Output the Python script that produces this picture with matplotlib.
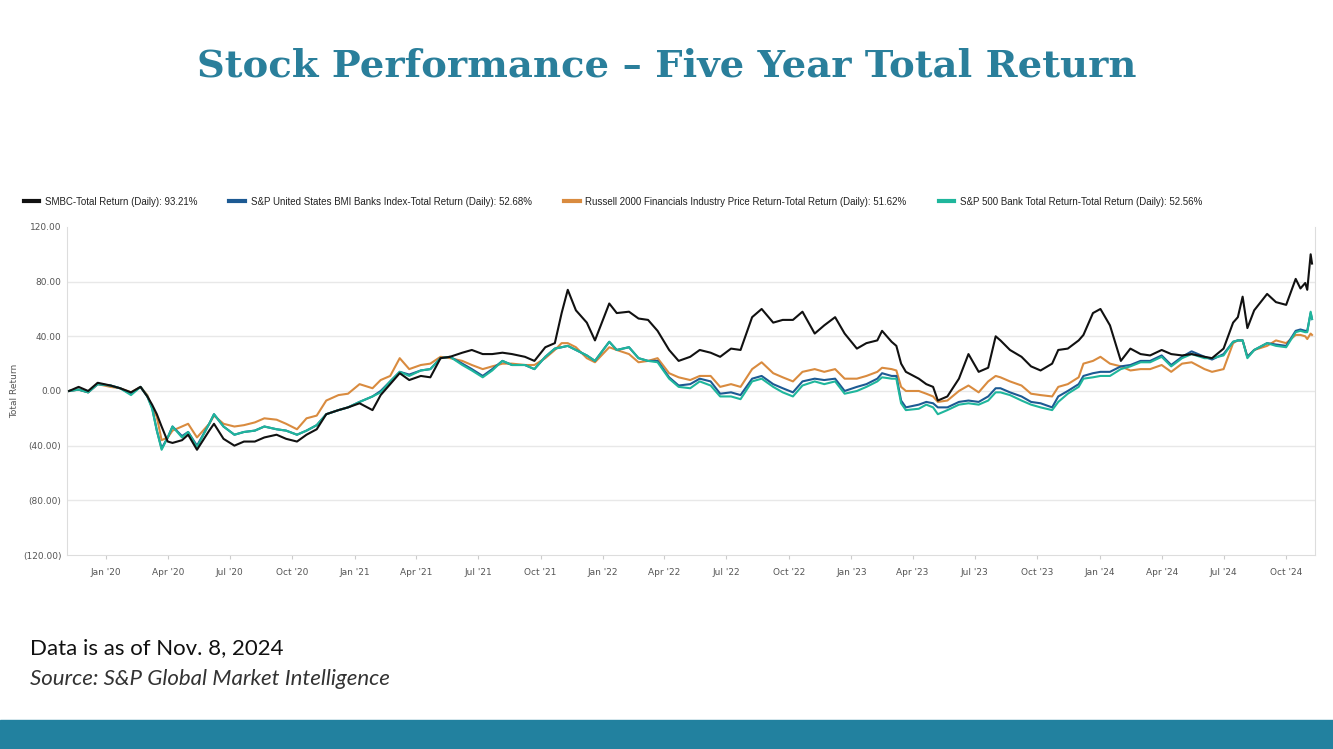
import pandas as pd
import matplotlib.pyplot as plt
import matplotlib.dates as mdates
from matplotlib.patches import Rectangle

# Werte (ca. alle zwei Wochen)
dates = [
    '2019-11-08', '2019-11-22', '2019-12-06', '2019-12-20', '2020-01-08', '2020-01-22',
    '2020-02-07', '2020-02-21', '2020-03-02', '2020-03-09', '2020-03-16', '2020-03-23',
    '2020-04-01', '2020-04-08', '2020-04-22', '2020-05-01', '2020-05-14', '2020-06-01',
    '2020-06-08', '2020-06-22', '2020-07-08', '2020-07-22', '2020-08-07', '2020-08-21',
    '2020-09-08', '2020-09-22', '2020-10-08', '2020-10-22', '2020-11-06', '2020-11-20',
    '2020-12-08', '2020-12-22', '2021-01-08', '2021-01-27', '2021-02-08', '2021-02-22',
    '2021-03-08', '2021-03-22', '2021-04-08', '2021-04-22', '2021-05-07', '2021-05-21',
    '2021-06-08', '2021-06-22', '2021-07-08', '2021-07-22', '2021-08-06', '2021-08-20',
    '2021-09-08', '2021-09-22', '2021-10-08', '2021-10-22', '2021-11-01', '2021-11-10',
    '2021-11-22', '2021-12-08', '2021-12-20', '2022-01-10', '2022-01-21', '2022-02-08',
    '2022-02-22', '2022-03-08', '2022-03-22', '2022-04-08', '2022-04-22', '2022-05-09',
    '2022-05-23', '2022-06-08', '2022-06-22', '2022-07-08', '2022-07-22', '2022-08-08',
    '2022-08-22', '2022-09-08', '2022-09-22', '2022-10-07', '2022-10-21', '2022-11-08',
    '2022-11-22', '2022-12-08', '2022-12-22', '2023-01-09', '2023-01-23', '2023-02-08',
    '2023-02-15', '2023-03-01', '2023-03-08', '2023-03-15', '2023-03-22', '2023-04-10',
    '2023-04-21', '2023-05-01', '2023-05-08', '2023-05-22', '2023-06-08', '2023-06-22',
    '2023-07-07', '2023-07-21', '2023-08-01', '2023-08-08', '2023-08-22', '2023-09-08',
    '2023-09-22', '2023-10-06', '2023-10-23', '2023-11-01', '2023-11-15', '2023-12-01',
    '2023-12-08', '2023-12-22', '2024-01-02', '2024-01-16', '2024-02-01', '2024-02-15',
    '2024-03-01', '2024-03-15', '2024-04-01', '2024-04-15', '2024-05-01', '2024-05-15',
    '2024-06-03', '2024-06-14', '2024-07-01', '2024-07-15', '2024-07-22', '2024-07-29',
    '2024-08-05', '2024-08-15', '2024-09-03', '2024-09-16', '2024-10-01', '2024-10-15',
    '2024-10-22', '2024-10-29', '2024-11-01', '2024-11-06', '2024-11-08',
]

smbc = [
    0, 3, 0, 6, 4, 2, -1, 3, -4, -10, -17, -26,
    -37, -38, -36, -32, -43, -29, -24, -35, -40, -37, -37, -34,
    -32, -35, -37, -32, -28, -17, -14, -12, -9, -14, -3, 5,
    13, 8, 11, 10, 24, 25, 28, 30, 27, 27, 28, 27,
    25, 22, 32, 35, 57, 74, 59, 50, 37, 64, 57, 58,
    53, 52, 44, 30, 22, 25, 30, 28, 25, 31, 30, 54,
    60, 50, 52, 52, 58, 42, 48, 54, 42, 31, 35, 37,
    44, 36, 33, 20, 14, 9, 5, 3, -7, -4, 9, 27,
    14, 17, 40, 37, 30, 25, 18, 15, 20, 30, 31, 37,
    41, 57, 60, 48, 22, 31, 27, 26, 30, 27, 26, 27,
    25, 24, 31, 50, 54, 69, 46, 59, 71, 65, 63, 82,
    75, 79, 74, 100, 93.21,
]

bmi_banks = [
    0, 1, -1, 5, 4, 2, -2, 3, -4, -12, -29, -42,
    -34, -26, -33, -30, -40, -24, -17, -26, -32, -30, -29, -26,
    -28, -29, -32, -29, -25, -17, -14, -12, -8, -4, 0, 7,
    14, 12, 15, 16, 24, 25, 20, 16, 11, 16, 22, 19,
    19, 16, 25, 31, 32, 33, 30, 26, 22, 36, 30, 32,
    24, 22, 22, 10, 4, 5, 9, 7, -2, -1, -3, 9,
    11, 5, 2, -1, 7, 9, 8, 9, 0, 3, 5, 9,
    13, 11, 11, -7, -12, -10, -8, -9, -12, -12, -8, -7,
    -8, -4, 2, 2, -1, -4, -8, -9, -12, -4, 0, 5,
    11, 13, 14, 14, 18, 19, 22, 22, 26, 19, 25, 29,
    25, 23, 27, 36, 37, 37, 25, 30, 35, 34, 33, 44,
    45, 44, 44, 57, 52.68,
]

russell_fin = [
    0, 1, -1, 5, 3, 2, -1, 3, -3, -12, -19, -36,
    -34, -29, -26, -24, -34, -24, -18, -24, -26, -25, -23, -20,
    -21, -24, -28, -20, -18, -7, -3, -2, 5, 2, 8, 11,
    24, 16, 19, 20, 25, 24, 22, 19, 16, 18, 20, 20,
    19, 19, 24, 30, 35, 35, 32, 24, 21, 32, 30, 27,
    21, 22, 24, 13, 10, 8, 11, 11, 3, 5, 3, 16,
    21, 13, 10, 7, 14, 16, 14, 16, 9, 9, 11, 14,
    17, 16, 15, 3, 0, 0, -2, -4, -8, -7, 0, 4,
    -1, 7, 11, 10, 7, 4, -2, -3, -4, 3, 5, 10,
    20, 22, 25, 20, 18, 15, 16, 16, 19, 14, 20, 21,
    16, 14, 16, 35, 37, 37, 25, 30, 33, 37, 35, 41,
    41, 40, 38, 42, 41,
]

sp500_bank = [
    0, 1, -1, 5, 4, 2, -3, 3, -4, -13, -29, -43,
    -34, -26, -34, -30, -41, -24, -17, -26, -32, -30, -29, -26,
    -28, -29, -32, -29, -25, -17, -14, -12, -8, -4, -1, 7,
    14, 11, 15, 16, 24, 25, 19, 15, 10, 15, 22, 19,
    19, 16, 25, 31, 32, 33, 30, 26, 22, 36, 30, 32,
    24, 22, 21, 9, 3, 2, 7, 4, -4, -4, -6, 7,
    9, 3, -1, -4, 4, 7, 5, 7, -2, 0, 3, 7,
    10, 9, 9, -9, -14, -13, -10, -12, -17, -14, -10, -9,
    -10, -7, -1, -1, -3, -7, -10, -12, -14, -8, -2, 3,
    9, 10, 11, 11, 16, 18, 21, 21, 25, 18, 24, 27,
    24, 24, 26, 36, 37, 37, 24, 30, 35, 33, 32, 43,
    44, 43, 43, 58, 52.56,
]

labels = [
    'SMBC-Total Return (Daily): 93.21%',
    'S&P United States BMI Banks Index-Total Return (Daily): 52.68%',
    'Russell 2000 Financials Industry Price Return-Total Return (Daily): 51.62%',
    'S&P 500 Bank Total Return-Total Return (Daily): 52.56%',
]
colors = ['#111111', '#1d5a93', '#d98b3f', '#1fb69c']

df = pd.DataFrame({
    'date': pd.to_datetime(dates),
    'smbc': smbc,
    'bmi': bmi_banks,
    'russell': russell_fin,
    'sp500': sp500_bank,
})

fig = plt.figure(figsize=(13.33, 7.49), dpi=100)
ax = fig.add_axes([0.0503, 0.259, 0.936, 0.438])

# Reihenfolge: Türkis liegt oben
for col, lab, c, z in zip(['smbc', 'bmi', 'russell', 'sp500'], labels, colors, [4, 2, 1, 3]):
    ax.plot(df['date'], df[col], color=c, linewidth=1.5, label=lab, zorder=z)

ax.set_xlim(pd.Timestamp('2019-11-05'), pd.Timestamp('2024-11-12'))
ax.set_ylim(-120, 120)
ax.set_yticks([120, 80, 40, 0, -40, -80, -120])
ax.set_yticklabels(['120.00', '80.00', '40.00', '0.00', '(40.00)', '(80.00)', '(120.00)'])
for yv in [80, 40, 0, -40, -80]:
    ax.axhline(yv, color='#e8e8e8', linewidth=1, zorder=0)

ax.xaxis.set_major_locator(mdates.MonthLocator(bymonth=[1, 4, 7, 10]))
ax.xaxis.set_major_formatter(mdates.DateFormatter("%b '%y"))

ax.tick_params(axis='y', length=0, labelsize=6.5, labelcolor='#555555', pad=4)
ax.tick_params(axis='x', length=3, color='#cccccc', labelsize=6.5, labelcolor='#555555', pad=6)
for s in ['left', 'bottom', 'right']:
    ax.spines[s].set_color('#dddddd')
ax.spines['top'].set_visible(False)
ax.set_ylabel('Total Return', fontsize=6.5, color='#555555', labelpad=3)

leg = ax.legend(loc='lower left', bbox_to_anchor=(-0.038, 1.05), ncol=4, frameon=False,
                prop={'family': 'Liberation Sans', 'size': 7},
                handlelength=1.6, handletextpad=0.6, columnspacing=3.3, borderaxespad=0)
for h in leg.get_lines():
    h.set_linewidth(3)
for t in leg.get_texts():
    t.set_color('#222222')

fig.text(0.5, 0.912, 'Stock Performance \u2013 Five Year Total Return', ha='center', va='center',
         fontsize=27.7, fontweight='bold', family='DejaVu Serif', color='#2a7f9b')

fig.text(0.0225, 0.135, 'Data is as of Nov. 8, 2024', fontsize=16, family='Lato',
         color='#111111', va='center')
fig.text(0.0225, 0.093, 'Source: S&P Global Market Intelligence', fontsize=16, family='Lato',
         style='italic', color='#333333', va='center')

fig.add_artist(Rectangle((0, 0), 1, 29 / 749, transform=fig.transFigure, color='#22819f', zorder=0))

fig.savefig('out.png', dpi=100)
